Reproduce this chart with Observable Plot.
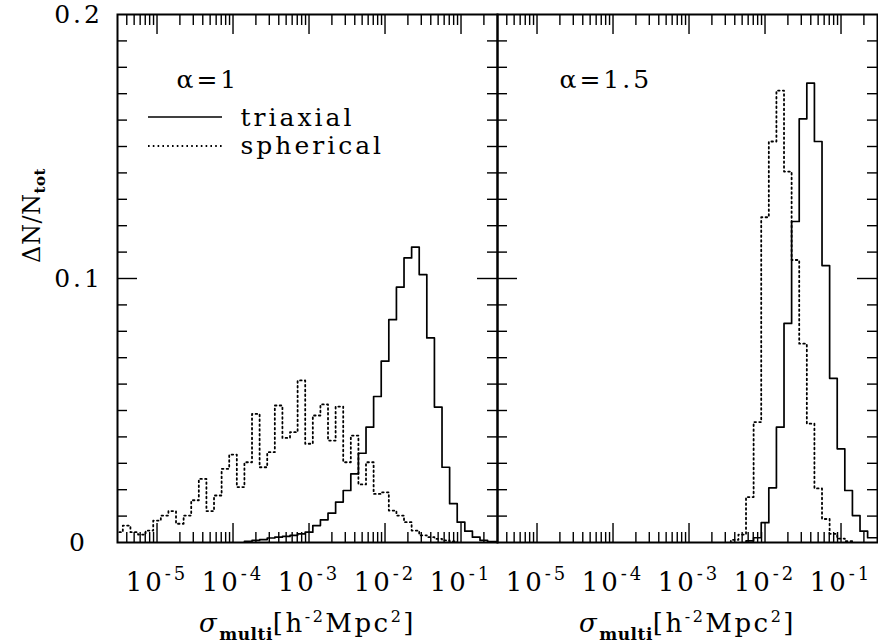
<!DOCTYPE html>
<html><head><meta charset="utf-8">
<script src="https://cdn.jsdelivr.net/npm/d3@7"></script>
<script src="https://cdn.jsdelivr.net/npm/@observablehq/plot@0.6"></script>
<style>
html,body{margin:0;padding:0;background:#fff;}
#chart svg{display:block;}
#chart svg text{letter-spacing:3px;}
</style></head>
<body><div id="chart"></div>
<script>
// ---- data ----
const panels = ["α=1", "α=1.5"];
const seriesNames = ["triaxial", "spherical"];
const binDex = 0.1; // histogram bin width in dex

// left panel (alpha = 1): log10 of first bin's lower edge, then bin heights
const tri1Start = -3.85;
const tri1 = [0.0004,0.0008,0.0011,0.0017,0.0020,0.0023,0.0027,0.0033,0.0039,0.0064,0.0086,0.0111,0.0153,0.0197,0.0260,0.0338,0.0437,0.0553,0.0687,0.0844,0.0967,0.1078,0.1119,0.1015,0.0775,0.0513,0.0285,0.0147,0.0077,0.0043,0.0020,0.0008,0.0003,0.0003];
const sph1Start = -5.55;
const sph1 = [0.0039,0.0064,0.0039,0.0030,0.0045,0.0083,0.0102,0.0119,0.0071,0.0102,0.0160,0.0241,0.0119,0.0178,0.0279,0.0333,0.0210,0.0304,0.0487,0.0285,0.0342,0.0519,0.0396,0.0418,0.0614,0.0374,0.0481,0.0523,0.0386,0.0515,0.0304,0.0405,0.0220,0.0304,0.0184,0.0190,0.0121,0.0102,0.0077,0.0045,0.0027,0.0020,0.0014,0.0008,0.0004];

// right panel (alpha = 1.5)
const tri2Start = -2.25;
const tri2 = [0.0006,0.0018,0.0075,0.0207,0.0437,0.0830,0.1216,0.1605,0.1740,0.1519,0.1049,0.0622,0.0355,0.0197,0.0102,0.0043,0.0018,0.0018];
const sph2Start = -2.45;
const sph2 = [0.0010,0.0030,0.0172,0.0456,0.1232,0.1519,0.1712,0.1405,0.1070,0.0753,0.0450,0.0205,0.0089,0.0033,0.0015,0.0005];

// axes
const xDomainExp = [-5.52, -0.52];
const majorExp = [-5, -4, -3, -2, -1];
const minorMult = [2, 3, 4, 5, 6, 7, 8, 9];
const minorExp = [-6, -5, -4, -3, -2, -1];
const yMajor = [0, 0.1, 0.2];
const yLabels = ["0", "0.1", "0.2"];
const yMinor = [0.01,0.02,0.03,0.04,0.05,0.06,0.07,0.08,0.09,0.11,0.12,0.13,0.14,0.15,0.16,0.17,0.18,0.19];

// ---- build step outlines ----
function stepPoints(panel, series, start, vals) {
  const e = i => 10 ** (start + i * binDex);
  const pts = [{panel, series, x: e(0), y: 0}];
  vals.forEach((v, i) => pts.push({panel, series, x: e(i), y: v}));
  pts.push({panel, series, x: e(vals.length), y: 0});
  return pts;
}
const triPts = [...stepPoints(panels[0], seriesNames[0], tri1Start, tri1), ...stepPoints(panels[1], seriesNames[0], tri2Start, tri2)];
const sphPts = [...stepPoints(panels[0], seriesNames[1], sph1Start, sph1), ...stepPoints(panels[1], seriesNames[1], sph2Start, sph2)];

const lo = 10 ** xDomainExp[0], hi = 10 ** xDomainExp[1];
const majorTicks = majorExp.map(e => 10 ** e);
const minorTicks = minorExp.flatMap(e => minorMult.map(m => m * 10 ** e)).filter(v => v > lo && v < hi * 0.98);

const W = 878, H = 643, mL = 117, mR = 1, mT = 14, mB = 101;
const innerH = H - mT - mB;
const facetW = (W - mL - mR) / 2;
const FS = 25;
const tk = {stroke: "black", strokeWidth: 1.4};
const DOTS = "1.6,3.2";

const svg = Plot.plot({
  width: W, height: H,
  marginLeft: mL, marginRight: mR, marginTop: mT, marginBottom: mB,
  x: {type: "log", domain: [lo, hi], axis: null},
  y: {domain: [0, 0.2], axis: null},
  fx: {domain: panels, padding: 0, axis: null},
  style: {fontFamily: "'DejaVu Serif', serif", background: "white", color: "black", overflow: "visible"},
  marks: [
    Plot.line(sphPts, {fx: "panel", x: "x", y: "y", curve: "step-after", stroke: "black", strokeWidth: 1.8, strokeDasharray: DOTS, clip: true}),
    Plot.line(triPts, {fx: "panel", x: "x", y: "y", curve: "step-after", stroke: "black", strokeWidth: 1.7, clip: true}),
    // x ticks (bottom, top)
    Plot.tickX(minorTicks, {x: d => d, insetTop: innerH - 10, ...tk}),
    Plot.tickX(minorTicks, {x: d => d, insetBottom: innerH - 11, ...tk}),
    Plot.tickX(majorTicks, {x: d => d, insetTop: innerH - 19, ...tk}),
    Plot.tickX(majorTicks, {x: d => d, insetBottom: innerH - 20, ...tk}),
    // y ticks (left and right side of each panel)
    Plot.tickY(yMinor, {y: d => d, insetRight: facetW - 10, ...tk}),
    Plot.tickY(yMinor, {y: d => d, insetLeft: facetW - 10, ...tk}),
    Plot.tickY([0.1], {y: d => d, insetRight: facetW - 20, ...tk}),
    Plot.tickY([0.1], {y: d => d, insetLeft: facetW - 20, ...tk}),
    Plot.frame({stroke: "black", strokeWidth: 2}),
    // y tick labels (left panel only)
    Plot.text(yMajor, {fx: () => panels[0], y: d => d, text: (d, i) => yLabels[i], frameAnchor: "left", dx: -39, textAnchor: "middle", lineAnchor: "middle", fontSize: FS}),
    // x tick labels
    Plot.text(majorExp, {x: d => 10 ** d, text: d => "10^" + d, frameAnchor: "bottom", dy: 48, lineAnchor: "bottom", textAnchor: "middle", fontSize: 26}),
    // x axis label
    Plot.text(panels, {fx: d => d, text: () => "XLABEL", frameAnchor: "bottom", dy: 89, lineAnchor: "bottom", textAnchor: "middle", fontSize: 26}),
    // y axis label
    Plot.text([panels[0]], {fx: d => d, text: () => "YLABEL", frameAnchor: "top-left", dx: -78, dy: 201, rotate: -90, lineAnchor: "bottom", textAnchor: "middle", fontSize: 24}),
    // panel annotations
    Plot.text([panels[0]], {fx: d => d, text: d => d, frameAnchor: "top-left", dx: 59, dy: 73, lineAnchor: "bottom", textAnchor: "start", fontSize: FS}),
    Plot.text([panels[1]], {fx: d => d, text: d => d, frameAnchor: "top-left", dx: 62, dy: 73, lineAnchor: "bottom", textAnchor: "start", fontSize: FS}),
    Plot.text([seriesNames[0]], {fx: () => panels[0], text: d => d, frameAnchor: "top-left", dx: 123, dy: 111, lineAnchor: "bottom", textAnchor: "start", fontSize: FS}),
    Plot.text([seriesNames[1]], {fx: () => panels[0], text: d => d, frameAnchor: "top-left", dx: 123, dy: 139, lineAnchor: "bottom", textAnchor: "start", fontSize: FS})
  ]
});

// ---- rich text (super/subscripts) ----
const root = d3.select(svg);
root.selectAll("text").each(function() {
  const t = d3.select(this);
  const s = t.text();
  const m = s.match(/^10\^(-?\d+)$/);
  if (m) {
    t.text("");
    t.append("tspan").text("10");
    t.append("tspan").attr("dy", -11).attr("font-size", 18).text(m[1]);
  } else if (s === "XLABEL") {
    t.text("").style("letter-spacing", "2.5px");
    t.append("tspan").attr("font-style", "italic").text("σ");
    t.append("tspan").attr("dy", 8).attr("font-size", 17).attr("font-weight", "bold").style("letter-spacing", "0.5px").text("multi");
    t.append("tspan").attr("dy", -8).text("[h");
    t.append("tspan").attr("dy", -10).attr("font-size", 16).text("-2");
    t.append("tspan").attr("dy", 10).text("Mpc");
    t.append("tspan").attr("dy", -10).attr("font-size", 16).text("2");
    t.append("tspan").attr("dy", 10).text("]");
  } else if (s === "YLABEL") {
    t.text("").style("letter-spacing", "0.5px");
    t.append("tspan").text("ΔN/N");
    t.append("tspan").attr("dy", 5).attr("font-size", 15).attr("font-weight", "bold").text("tot");
  }
});

// legend line samples
root.append("line").attr("x1", 148).attr("x2", 222).attr("y1", 117).attr("y2", 117)
  .attr("stroke", "black").attr("stroke-width", 1.7);
root.append("line").attr("x1", 148).attr("x2", 222).attr("y1", 146).attr("y2", 146)
  .attr("stroke", "black").attr("stroke-width", 1.8).attr("stroke-dasharray", DOTS);

document.getElementById("chart").appendChild(svg);
</script>
</body></html>
